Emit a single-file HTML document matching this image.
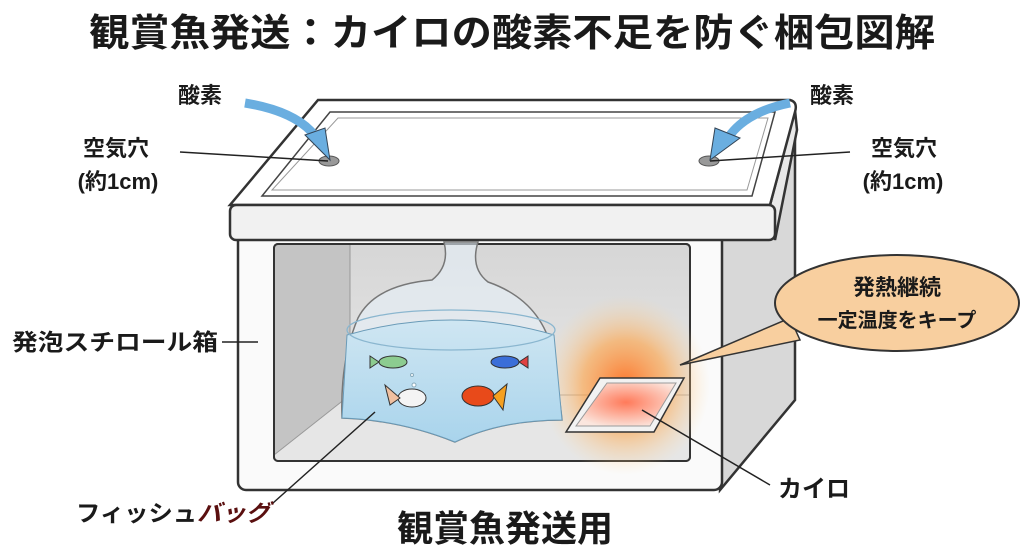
<!DOCTYPE html>
<html><head><meta charset="utf-8"><style>
html,body{margin:0;padding:0;background:#fff;}
svg{display:block;}
text{font-family:"Liberation Sans","Noto Sans CJK JP",sans-serif;fill:#1a1a1a;}
</style></head><body>
<svg width="1024" height="559" viewBox="0 0 1024 559" xmlns="http://www.w3.org/2000/svg">
<defs>
<radialGradient id="heat" cx="0.5" cy="0.5" r="0.5">
<stop offset="0" stop-color="#ff6a1a" stop-opacity="0.9"/>
<stop offset="0.5" stop-color="#ffa040" stop-opacity="0.6"/>
<stop offset="1" stop-color="#ffd9a0" stop-opacity="0"/>
</radialGradient>
<radialGradient id="pad" cx="0.5" cy="0.45" r="0.6">
<stop offset="0" stop-color="#ff7a5a"/>
<stop offset="1" stop-color="#fbe6de"/>
</radialGradient>
<linearGradient id="back" x1="0" y1="0" x2="0" y2="1">
<stop offset="0" stop-color="#d6d6d6"/><stop offset="1" stop-color="#ececec"/>
</linearGradient>
<linearGradient id="water" x1="0" y1="0" x2="0" y2="1">
<stop offset="0" stop-color="#cfe6f2"/><stop offset="1" stop-color="#a9d4ec"/>
</linearGradient>
</defs>

<text x="512" y="46" font-size="38" font-weight="bold" text-anchor="middle" textLength="846" lengthAdjust="spacingAndGlyphs">観賞魚発送：カイロの酸素不足を防ぐ梱包図解</text>

<polygon points="720,236 795,118 795,400 720,490" fill="#d8d8d8" stroke="#333" stroke-width="2.5"/>
<rect x="238" y="232" width="484" height="258" rx="8" fill="#fafafa" stroke="#333" stroke-width="2.5"/>
<rect x="274" y="244" width="416" height="217" rx="4" fill="url(#back)" stroke="#333" stroke-width="2"/>
<polygon points="274,244 350,244 350,395 274,455" fill="#c4c4c4"/>
<polygon points="350,395 690,395 690,461 274,461 274,455" fill="#e6e6e6"/>
<line x1="350" y1="244" x2="350" y2="395" stroke="#999" stroke-width="1"/>
<line x1="274" y1="455" x2="350" y2="395" stroke="#999" stroke-width="1"/>
<line x1="350" y1="395" x2="690" y2="395" stroke="#aaa" stroke-width="1"/>
<rect x="274" y="244" width="416" height="217" rx="4" fill="none" stroke="#333" stroke-width="2"/>

<ellipse cx="625" cy="385" rx="85" ry="90" fill="url(#heat)"/>

<polygon points="770,205 795,110 797,130 775,240" fill="#e8e8e8" stroke="#333" stroke-width="2.5"/>
<path d="M318,100 L790,100 Q798,102 795,112 L770,205 L230,205 Z" fill="#fff" stroke="#333" stroke-width="2.5"/>
<polygon points="330,112 775,112 752,196 262,196" fill="#fff" stroke="#444" stroke-width="1.5"/>
<polygon points="338,118 768,118 747,190 272,190" fill="none" stroke="#999" stroke-width="1"/>
<rect x="230" y="205" width="545" height="35" rx="6" fill="#f1f1f1" stroke="#333" stroke-width="2.5"/>
<ellipse cx="329" cy="161" rx="10" ry="5" fill="#999" stroke="#555"/>
<ellipse cx="709" cy="161" rx="10" ry="5" fill="#999" stroke="#555"/>
<path d="M245,103 Q300,112 318,140" fill="none" stroke="#6aaee0" stroke-width="9"/>
<polygon points="305,135 330,160 325,128" fill="#6aaee0" stroke="#345" stroke-width="1"/>
<path d="M790,103 Q745,112 728,138" fill="none" stroke="#6aaee0" stroke-width="9"/>
<polygon points="715,128 710,160 740,138" fill="#6aaee0" stroke="#345" stroke-width="1"/>

<!-- bag -->
<path d="M444,242 L478,242 Q470,268 488,282 Q540,300 552,350 Q560,400 562,420 Q500,420 455,442 Q400,420 342,418 Q340,360 358,318 Q375,285 432,280 Q450,266 444,242 Z" fill="rgba(230,240,248,0.6)" stroke="#777" stroke-width="1.5"/>
<path d="M347,335 Q452,305 554,335 L562,420 Q500,420 455,442 Q400,420 342,418 Z" fill="url(#water)" stroke="#6a9bb8" stroke-width="1"/>
<ellipse cx="451" cy="330" rx="104" ry="20" fill="none" stroke="#8ab6cf" stroke-width="1.2"/>
<ellipse cx="393" cy="362" rx="14" ry="6" fill="#8ccc90" stroke="#333"/><polygon points="379,362 370,356 370,368" fill="#8ccc90" stroke="#333"/>
<ellipse cx="505" cy="362" rx="14" ry="6" fill="#3a6ed8" stroke="#333"/><polygon points="519,362 528,356 528,368" fill="#e04040" stroke="#333"/>
<ellipse cx="412" cy="398" rx="14" ry="9" fill="#f4f4f4" stroke="#333"/><path d="M400,398 L385,385 L390,405 Z" fill="#f0c0a0" stroke="#333"/>
<ellipse cx="478" cy="396" rx="16" ry="10" fill="#e84a1a" stroke="#333"/><path d="M493,396 L507,384 L503,410 Z" fill="#f5a020" stroke="#333"/>
<circle cx="414" cy="385" r="2" fill="#fff" stroke="#8ab"/><circle cx="412" cy="375" r="1.5" fill="#fff" stroke="#8ab"/>

<polygon points="600,378 684,378 654,432 566,432" fill="#f2f2f2" stroke="#333" stroke-width="1.5"/>
<polygon points="607,383 676,383 650,426 576,426" fill="url(#pad)" stroke="#999"/>

<polygon points="680,365 790,318 800,340" fill="#f8cf9f" stroke="#333" stroke-width="1.5"/>
<ellipse cx="897" cy="303" rx="122" ry="48" fill="#f8cf9f" stroke="#333" stroke-width="2"/>
<text x="897" y="295" font-size="22" font-weight="bold" text-anchor="middle">発熱継続</text>
<text x="897" y="327" font-size="20" font-weight="bold" text-anchor="middle">一定温度をキープ</text>

<line x1="180" y1="152" x2="328" y2="161" stroke="#222" stroke-width="1.5"/>
<line x1="710" y1="161" x2="850" y2="152" stroke="#222" stroke-width="1.5"/>
<line x1="222" y1="342" x2="258" y2="342" stroke="#222" stroke-width="1.5"/>
<line x1="273" y1="503" x2="375" y2="412" stroke="#222" stroke-width="1.5"/>
<line x1="642" y1="410" x2="770" y2="485" stroke="#222" stroke-width="1.5"/>

<text x="200" y="103" font-size="22" font-weight="bold" text-anchor="middle">酸素</text>
<text x="116" y="156" font-size="22" font-weight="bold" text-anchor="middle">空気穴</text>
<text x="118" y="189" font-size="22" font-weight="bold" text-anchor="middle">(約1cm)</text>
<text x="832" y="103" font-size="22" font-weight="bold" text-anchor="middle">酸素</text>
<text x="904" y="156" font-size="22" font-weight="bold" text-anchor="middle">空気穴</text>
<text x="903" y="189" font-size="22" font-weight="bold" text-anchor="middle">(約1cm)</text>
<text x="12" y="350" font-size="23" font-weight="bold" textLength="206" lengthAdjust="spacingAndGlyphs">発泡スチロール箱</text>
<text x="778" y="497" font-size="24" font-weight="bold">カイロ</text>
<text x="76" y="521" font-size="23" font-weight="bold" textLength="194" lengthAdjust="spacingAndGlyphs">フィッシュ<tspan fill="#5a0f0f" font-style="italic">バッグ</tspan></text>
<text x="505" y="541" font-size="36" font-weight="bold" text-anchor="middle">観賞魚発送用</text>
</svg>
</body></html>
